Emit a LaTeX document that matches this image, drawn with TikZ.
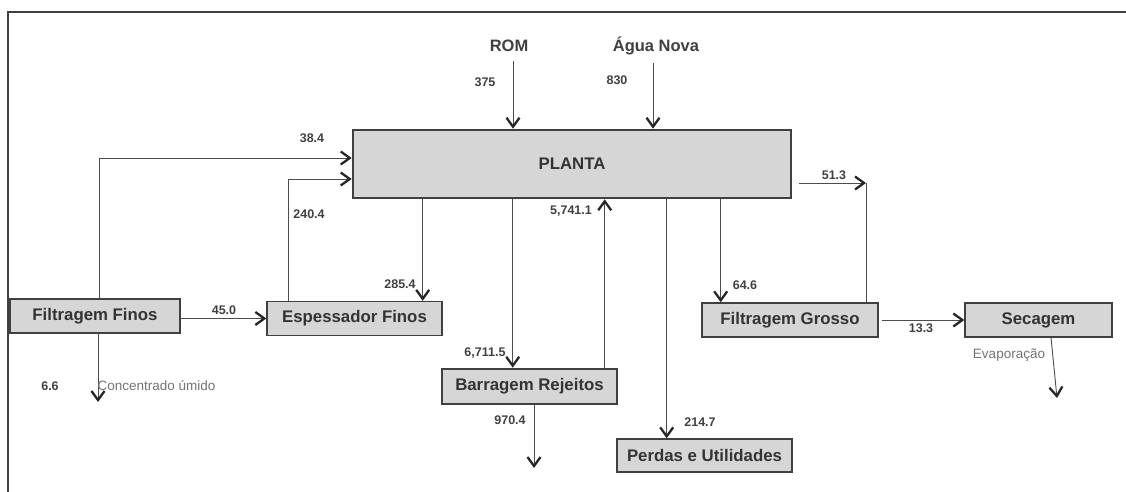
\documentclass[tikz,border=0pt]{standalone}
\usepackage{fontspec}
\setmainfont{Liberation Sans}
\usetikzlibrary{arrows.meta}
\begin{document}
\begin{tikzpicture}[x=1pt,y=-1pt,
  box/.style={draw=black!75,fill=black!16,line width=1.4pt,minimum height=34pt,inner sep=0pt,text=black!80,font=\bfseries\fontsize{16.8}{20}\selectfont},
  heavy/.style={box,line width=2.6pt},
  flow/.style={line width=0.9pt,draw=black!70,-{Straight Barb[length=9pt,width=13pt,line width=2.3pt,black!85]}},
  num/.style={text=black!75,font=\bfseries\fontsize{12.5}{14}\selectfont},
  inlet/.style={text=black!75,font=\bfseries\fontsize{16.5}{20}\selectfont},
  note/.style={text=black!55,font=\fontsize{13.5}{15}\selectfont}]
 \useasboundingbox (0,0) rectangle (1126,492);
 \draw[line width=1.5pt,black!75] (8,492) -- (8,12) -- (1126,12);
 % boxes
 \node[heavy,minimum width=438pt,minimum height=68pt] (planta) at (572,164) {PLANTA};
 \node[box,minimum width=170pt] (ffinos) at (95,316) {Filtragem Finos};
 \node[box,minimum width=175pt] (espfinos) at (354.5,318.5) {Espessador Finos};
 \node[heavy,minimum width=175pt,minimum height=35pt] (barragem) at (529.5,386.5) {Barragem Rejeitos};
 \node[box,minimum width=175pt,minimum height=33pt] (perdas) at (704.5,455.5) {Perdas e Utilidades};
 \node[box,minimum width=176pt] (fgrosso) at (790,320) {Filtragem Grosso};
 \node[box,minimum width=147pt] (secagem) at (1038.5,320) {Secagem};
 % inlets
 \node[inlet] (rom) at (509,46) {ROM};
 \node[inlet] (agua) at (656,46) {Água Nova};
 % free ends
 \coordinate (cuend) at (98,402);
 \coordinate (bdend) at (534,468);
 \coordinate (evend) at (1057,398);
 \coordinate (fgup) at (866,183);
 % flows
 \draw[flow] (rom.south -| 513,0) ++(0,6) -- (planta.north -| 513,0);
 \draw[flow] (agua.south -| 653,0) ++(0,4) -- (planta.north -| 653,0);
 \draw[flow] ([xshift=4pt]ffinos.north) |- ([yshift=6pt]planta.west);
 \draw[flow] ([xshift=22pt]espfinos.north west) |- ([yshift=-15pt]planta.west);
 \draw[flow] ([xshift=71pt]planta.south west) -- ([xshift=71pt]planta.south west |- espfinos.north);
 \draw[flow] (ffinos.east |- espfinos.west) -- (espfinos.west);
 \draw[flow] ([xshift=3pt]ffinos.south) -- (cuend);
 \draw[flow] ([xshift=161pt]planta.south west) -- ([xshift=161pt]planta.south west |- barragem.north);
 \draw[flow] ([xshift=253pt]planta.south west |- barragem.north) -- ([xshift=253pt]planta.south west);
 \draw[flow] (barragem.south -| bdend) -- (bdend);
 \draw[flow] ([xshift=315pt]planta.south west) -- ([xshift=315pt]planta.south west |- perdas.north);
 \draw[flow] ([xshift=369pt]planta.south west) -- ([xshift=369pt]planta.south west |- fgrosso.north);
 \draw[flow] ([xshift=7pt,yshift=-19pt]planta.east) -- (fgup);
 \draw[line width=0.9pt,black!70] (fgup) -- (fgup |- fgrosso.north);
 \draw[flow] ([xshift=3pt]fgrosso.east) -- (secagem.west);
 \draw[flow] ([xshift=12.5pt]secagem.south) -- (evend);
 % labels
 \node[num] (l375) at (485,82) {375};
 \node[num] (l830) at (617,80) {830};
 \node[num] (l384) at (312,138) {38.4};
 \node[num] (l2404) at (309,214) {240.4};
 \node[num] (l2854) at (400,284) {285.4};
 \node[num] (l450) at (224,310) {45.0};
 \node[num] (l66) at (50,386) {6.6};
 \node[note,anchor=west] (lcu) at (94,386) {Concentrado úmido};
 \node[num] (l67115) at (485,353) {6,711.5};
 \node[num] (l57411) at (571,211) {5,741.1};
 \node[num] (l9704) at (510,420) {970.4};
 \node[num] (l2147) at (700,422) {214.7};
 \node[num] (l646) at (745,285) {64.6};
 \node[num] (l513) at (834,175) {51.3};
 \node[num] (l133) at (921,328) {13.3};
 \node[note] (lev) at (1009,355) {Evaporação};
\end{tikzpicture}
\end{document}
